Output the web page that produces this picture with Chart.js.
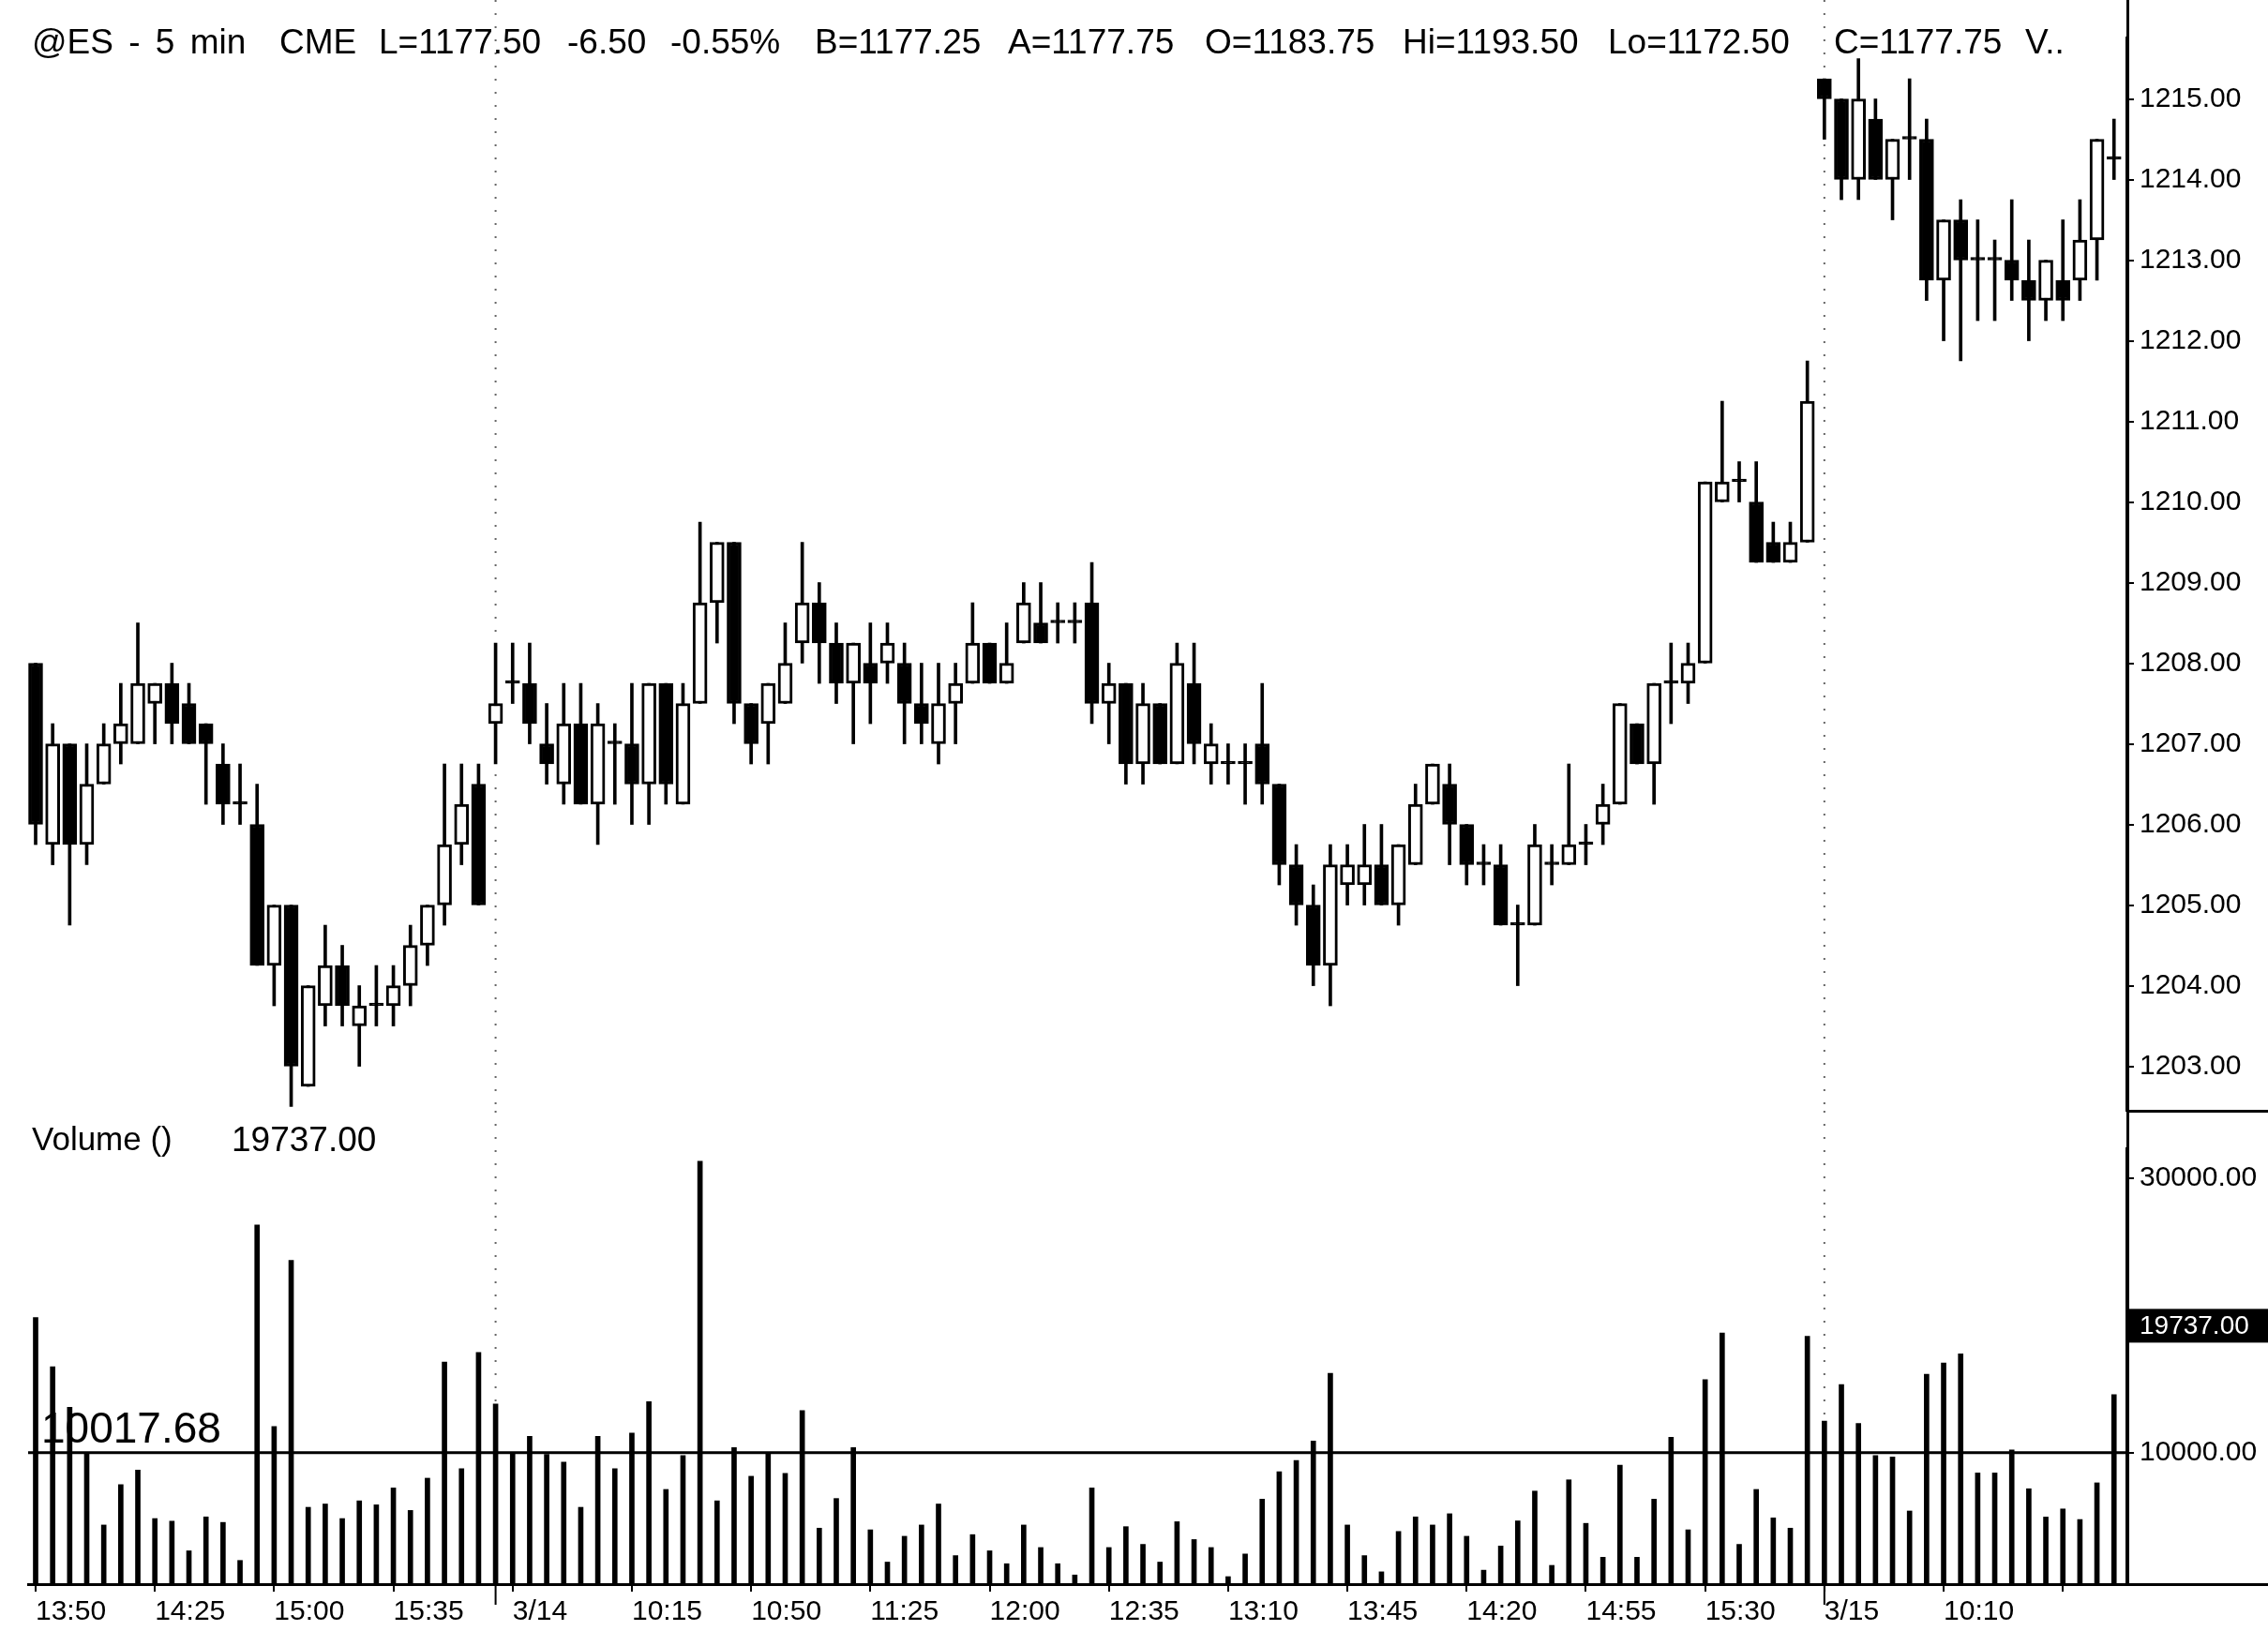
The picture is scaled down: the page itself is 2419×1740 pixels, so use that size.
<!DOCTYPE html>
<html>
<head>
<meta charset="utf-8">
<script src="https://cdn.jsdelivr.net/npm/chart.js@4.4.1/dist/chart.umd.min.js"></script>
<style>
html,body{margin:0;padding:0;background:#fff;}
#wrap{position:relative;width:2419px;height:1740px;overflow:hidden;font-family:"Liberation Sans",Arial,sans-serif;color:#000;}
#priceChart{position:absolute;left:0;top:0;}
#volChart{position:absolute;left:0;top:1185px;}
.lbl{position:absolute;white-space:pre;line-height:1;}
.hd{top:26px;font-size:37px;}
</style>
</head>
<body>
<div id="wrap">
<canvas id="priceChart" width="2419" height="1225"></canvas>
<canvas id="volChart" width="2419" height="555"></canvas>
<div class="lbl hd" style="left:34px;word-spacing:6px;">@ES - 5 min</div>
<div class="lbl hd" style="left:298px;">CME</div>
<div class="lbl hd" style="left:404px;">L=1177.50</div>
<div class="lbl hd" style="left:605px;">-6.50</div>
<div class="lbl hd" style="left:715px;">-0.55%</div>
<div class="lbl hd" style="left:869px;">B=1177.25</div>
<div class="lbl hd" style="left:1075px;">A=1177.75</div>
<div class="lbl hd" style="left:1285px;">O=1183.75</div>
<div class="lbl hd" style="left:1496px;">Hi=1193.50</div>
<div class="lbl hd" style="left:1715px;">Lo=1172.50</div>
<div class="lbl hd" style="left:1956px;">C=1177.75</div>
<div class="lbl hd" style="left:2160px;">V..</div>
<div class="lbl" style="left:34px;top:1197px;font-size:35px;">Volume ()</div>
<div class="lbl" style="left:247px;top:1197px;font-size:37px;">19737.00</div>
<div class="lbl" style="left:44px;top:1500px;font-size:46px;">10017.68</div>
</div>
<script>
// 5 min bars: 3/13 13:50-16:00, 3/14 9:35-16:00, 3/15 9:35-11:00
const opens = [
1208.0,1205.75,1207.0,1205.75,1206.5,1207.0,1207.0,1207.5,1207.75,1207.5,
1207.25,1206.75,1206.25,1206.0,1204.25,1205.0,1202.75,1203.75,1204.25,1203.5,
1203.75,1203.75,1204.0,1204.5,1205.0,1205.75,1206.5,
1207.25,1207.75,1207.75,1207.0,1206.5,1207.25,1206.25,1207.0,1207.0,1206.5,
1207.75,1206.25,1207.5,1208.75,1209.5,1207.5,1207.25,1207.5,1208.25,1208.75,
1208.25,1207.75,1208.0,1208.0,1208.0,1207.5,1207.0,1207.5,1207.75,1208.25,
1207.75,1208.25,1208.5,1208.5,1208.5,1208.75,1207.5,1207.75,1206.75,1207.5,
1206.75,1207.75,1206.75,1206.75,1206.75,1207.0,1206.5,1205.5,1205.0,1204.25,
1205.25,1205.25,1205.5,1205.0,1205.5,1206.25,1206.5,1206.0,1205.5,1205.5,
1204.75,1204.75,1205.5,1205.5,1205.75,1206.0,1206.25,1207.25,1206.75,1207.75,
1207.75,1208.0,1210.0,1210.25,1210.0,1209.5,1209.25,1209.5,
1215.25,1215.0,1214.0,1214.75,1214.0,1214.5,1214.5,1212.75,1213.5,1213.0,
1213.0,1213.0,1212.75,1212.5,1212.75,1212.75,1213.25,1214.25
];
const highs = [
1208.0,1207.25,1207.0,1207.0,1207.25,1207.75,1208.5,1207.75,1208.0,1207.75,
1207.25,1207.0,1206.75,1206.5,1205.0,1205.0,1204.0,1204.75,1204.5,1204.0,
1204.25,1204.25,1204.75,1205.0,1206.75,1206.75,1206.75,
1208.25,1208.25,1208.25,1207.5,1207.75,1207.75,1207.5,1207.25,1207.75,1207.75,
1207.75,1207.75,1209.75,1209.5,1209.5,1207.5,1207.75,1208.5,1209.5,1209.0,
1208.5,1208.25,1208.5,1208.5,1208.25,1208.0,1208.0,1208.0,1208.75,1208.25,
1208.5,1209.0,1209.0,1208.75,1208.75,1209.25,1208.0,1207.75,1207.75,1207.5,
1208.25,1208.25,1207.25,1207.0,1207.0,1207.75,1206.5,1205.75,1205.25,1205.75,
1205.75,1206.0,1206.0,1205.75,1206.5,1206.75,1206.75,1206.0,1205.75,1205.75,
1205.0,1206.0,1205.75,1206.75,1206.0,1206.5,1207.5,1207.25,1207.75,1208.25,
1208.25,1210.25,1211.25,1210.5,1210.5,1209.75,1209.75,1211.75,
1215.25,1215.0,1215.5,1215.0,1214.5,1215.25,1214.75,1213.5,1213.75,1213.5,
1213.25,1213.75,1213.25,1213.0,1213.5,1213.75,1214.5,1214.75
];
const lows = [
1205.75,1205.5,1204.75,1205.5,1206.5,1206.75,1207.0,1207.0,1207.0,1207.0,
1206.25,1206.0,1206.0,1204.25,1203.75,1202.5,1202.75,1203.5,1203.5,1203.0,
1203.5,1203.5,1203.75,1204.25,1204.75,1205.5,1205.0,
1206.75,1207.5,1207.0,1206.5,1206.25,1206.25,1205.75,1206.25,1206.0,1206.0,
1206.25,1206.25,1207.5,1208.25,1207.25,1206.75,1206.75,1207.5,1208.0,1207.75,
1207.5,1207.0,1207.25,1207.75,1207.0,1207.0,1206.75,1207.0,1207.75,1207.75,
1207.75,1208.25,1208.25,1208.25,1208.25,1207.25,1207.0,1206.5,1206.5,1206.75,
1206.75,1206.75,1206.5,1206.5,1206.25,1206.25,1205.25,1204.75,1204.0,1203.75,
1205.0,1205.0,1205.0,1204.75,1205.5,1206.25,1205.5,1205.25,1205.25,1204.75,
1204.0,1204.75,1205.25,1205.5,1205.5,1205.75,1206.25,1206.75,1206.25,1207.25,
1207.5,1208.0,1210.0,1210.0,1209.25,1209.25,1209.25,1209.5,
1214.5,1213.75,1213.75,1214.0,1213.5,1214.0,1212.5,1212.0,1211.75,1212.25,
1212.25,1212.5,1212.0,1212.25,1212.25,1212.5,1212.75,1214.0
];
const closes = [
1206.0,1207.0,1205.75,1206.5,1207.0,1207.25,1207.75,1207.75,1207.25,1207.0,
1207.0,1206.25,1206.25,1204.25,1205.0,1203.0,1204.0,1204.25,1203.75,1203.75,
1203.75,1204.0,1204.5,1205.0,1205.75,1206.25,1205.0,
1207.5,1207.75,1207.25,1206.75,1207.25,1206.25,1207.25,1207.0,1206.5,1207.75,
1206.5,1207.5,1208.75,1209.5,1207.5,1207.0,1207.75,1208.0,1208.75,1208.25,
1207.75,1208.25,1207.75,1208.25,1207.5,1207.25,1207.5,1207.75,1208.25,1207.75,
1208.0,1208.75,1208.25,1208.5,1208.5,1207.5,1207.75,1206.75,1207.5,1206.75,
1208.0,1207.0,1207.0,1206.75,1206.75,1206.5,1205.5,1205.0,1204.25,1205.5,
1205.5,1205.5,1205.0,1205.75,1206.25,1206.75,1206.0,1205.5,1205.5,1204.75,
1204.75,1205.75,1205.5,1205.75,1205.75,1206.25,1207.5,1206.75,1207.75,1207.75,
1208.0,1210.25,1210.25,1210.25,1209.25,1209.25,1209.5,1211.25,
1215.0,1214.0,1215.0,1214.0,1214.5,1214.5,1212.75,1213.5,1213.0,1213.0,
1213.0,1212.75,1212.5,1213.0,1212.5,1213.25,1214.5,1214.25
];
const volumes = [
19860,16270,13330,10000,4750,7690,8750,5220,5030,2870,
5340,4940,2170,26600,11920,24020,6040,6280,5220,6510,
6220,7450,5810,8160,16620,8860,17320,
13560,10000,11210,9900,9330,6040,11210,8860,11450,13730,
7340,9800,31240,6510,10390,8300,10000,8510,13090,4520,
6680,10390,4400,2050,3930,4750,6280,2520,4050,2870,
1930,4750,3110,1930,1110,7450,3110,4630,3340,2050,
4990,3690,3110,990,2640,6630,8630,9450,10860,15800,
4750,2520,1340,4280,5340,4750,5570,3930,1460,3220,
5050,7220,1810,8040,4870,2400,9100,2400,6630,11140,
4400,15330,18730,3340,7340,5270,4520,18500,
12320,14970,12150,9800,9700,5770,15730,16550,17220,8540,
8540,10210,7390,5330,5920,5150,7820,14240
];

const tickBars = [0,7,14,21,28,35,42,49,56,63,70,77,84,91,98,105,112,119];
const tickLabels = ["13:50","14:25","15:00","15:35","3/14","10:15","10:50","11:25","12:00","12:35","13:10","13:45","14:20","14:55","15:30","3/15","10:10",""];
const dayBreaks = [27,105];
const priceTicks = [1203,1204,1205,1206,1207,1208,1209,1210,1211,1212,1213,1214,1215];
const volTicks = [10000,30000];
const volAverage = 10017.68;
const volLast = 19737.00;

Chart.defaults.font.family = "'Liberation Sans', Arial, sans-serif";
Chart.defaults.color = "#000";

const xMin = -0.44;
const xMax = 122.73;

const dayLines = {
  id:"dayLines",
  beforeDatasetsDraw(chart){
    const ctx = chart.ctx;
    const a = chart.chartArea;
    ctx.save();
    ctx.strokeStyle = "#666";
    ctx.lineWidth = 2;
    ctx.setLineDash([2,12]);
    dayBreaks.forEach(b => {
      const x = chart.scales.x.getPixelForValue(b);
      ctx.beginPath();
      ctx.moveTo(x,0);
      ctx.lineTo(x,a.bottom);
      ctx.stroke();
    });
    ctx.restore();
  }
};

const priceFrame = {
  id:"priceFrame",
  afterDraw(chart){
    const ctx = chart.ctx;
    const a = chart.chartArea;
    ctx.save();
    ctx.fillStyle = "#000";
    ctx.fillRect(a.right,0,3,chart.height);
    ctx.fillRect(a.right,a.bottom-1,chart.width-a.right,3);
    ctx.restore();
  }
};

const volFrame = {
  id:"volFrame",
  afterDatasetsDraw(chart){
    const ctx = chart.ctx;
    const a = chart.chartArea;
    const y = chart.scales.y;
    ctx.save();
    ctx.fillStyle = "#000";
    const ya = y.getPixelForValue(volAverage);
    ctx.fillRect(a.left,ya-1.5,a.right-a.left,3);
    ctx.restore();
  },
  afterDraw(chart){
    const ctx = chart.ctx;
    const a = chart.chartArea;
    const y = chart.scales.y;
    const x = chart.scales.x;
    ctx.save();
    ctx.fillStyle = "#000";
    ctx.fillRect(a.right,0,3,a.bottom+2);
    ctx.fillRect(a.right,a.bottom-1,chart.width-a.right,3);
    dayBreaks.forEach(b => {
      ctx.fillRect(x.getPixelForValue(b)-1,a.bottom,2,22);
    });
    const yl = y.getPixelForValue(volLast);
    ctx.fillRect(a.right,yl-11,chart.width-a.right,36);
    ctx.fillStyle = "#fff";
    ctx.font = "28px 'Liberation Sans', Arial, sans-serif";
    ctx.textBaseline = "middle";
    ctx.fillText(volLast.toFixed(2),a.right+14,yl+8);
    ctx.restore();
  }
};

new Chart(

document.getElementById(
"priceChart"
),

{

type:"bar",

data:{

datasets:[{

label:"Body",

data:opens.map((o,i) => ({x:i, y:[o, closes[i]]})),

backgroundColor:opens.map((o,i) => closes[i] > o ? "#ffffff" : "#000000"),

borderColor:"#000000",

borderWidth:3,

borderSkipped:false,

barThickness:15,

minBarLength:3,

grouped:false

},{

label:"Range",

data:lows.map((l,i) => ({x:i, y:[l, highs[i]]})),

backgroundColor:"#000000",

borderWidth:0,

barThickness:3,

grouped:false

}]

},

options:{

responsive:false,

animation:false,

layout:{padding:{top:40,bottom:40,left:30,right:0}},

plugins:{legend:{display:false},tooltip:{enabled:false}},

scales:{

x:{type:"linear",min:xMin,max:xMax,offset:false,display:false},

y:{

position:"right",

min:1202.448,

max:1215.762,

afterBuildTicks:s => {s.ticks = priceTicks.map(v => ({value:v}));},

afterFit:s => {s.width = 151;},

ticks:{color:"#000",font:{size:30},padding:6,callback:v => v.toFixed(2)},

grid:{drawOnChartArea:false,color:"#000",lineWidth:2,tickLength:8},

border:{color:"#000",width:3}

}

}

},

plugins:[dayLines,priceFrame]

}

)



new Chart(

document.getElementById(
"volChart"
),

{

type:"bar",

data:{

datasets:[{

label:"Volume",

data:volumes.map((v,i) => ({x:i, y:v})),

backgroundColor:"#000000",

barThickness:5

}]

},

options:{

responsive:false,

animation:false,

layout:{padding:{top:40,bottom:0,left:30,right:0}},

plugins:{legend:{display:false},tooltip:{enabled:false}},

scales:{

x:{

type:"linear",

min:xMin,

max:xMax,

offset:false,

afterBuildTicks:s => {s.ticks = tickBars.map(v => ({value:v}));},

afterFit:s => {s.height = 50;},

ticks:{align:"start",color:"#000",font:{size:30},padding:4,maxRotation:0,autoSkip:false,callback:(v,i) => tickLabels[i]},

grid:{drawOnChartArea:false,offset:false,color:"#000",lineWidth:2,tickLength:8},

border:{color:"#000",width:3}

},

y:{

position:"right",

min:444,

max:32185,

afterBuildTicks:s => {s.ticks = volTicks.map(v => ({value:v}));},

afterFit:s => {s.width = 151;},

ticks:{color:"#000",font:{size:30},padding:6,callback:v => v.toFixed(2)},

grid:{drawOnChartArea:false,color:"#000",lineWidth:2,tickLength:8},

border:{color:"#000",width:3}

}

}

},

plugins:[dayLines,volFrame]

}

)
</script>
</body>
</html>
